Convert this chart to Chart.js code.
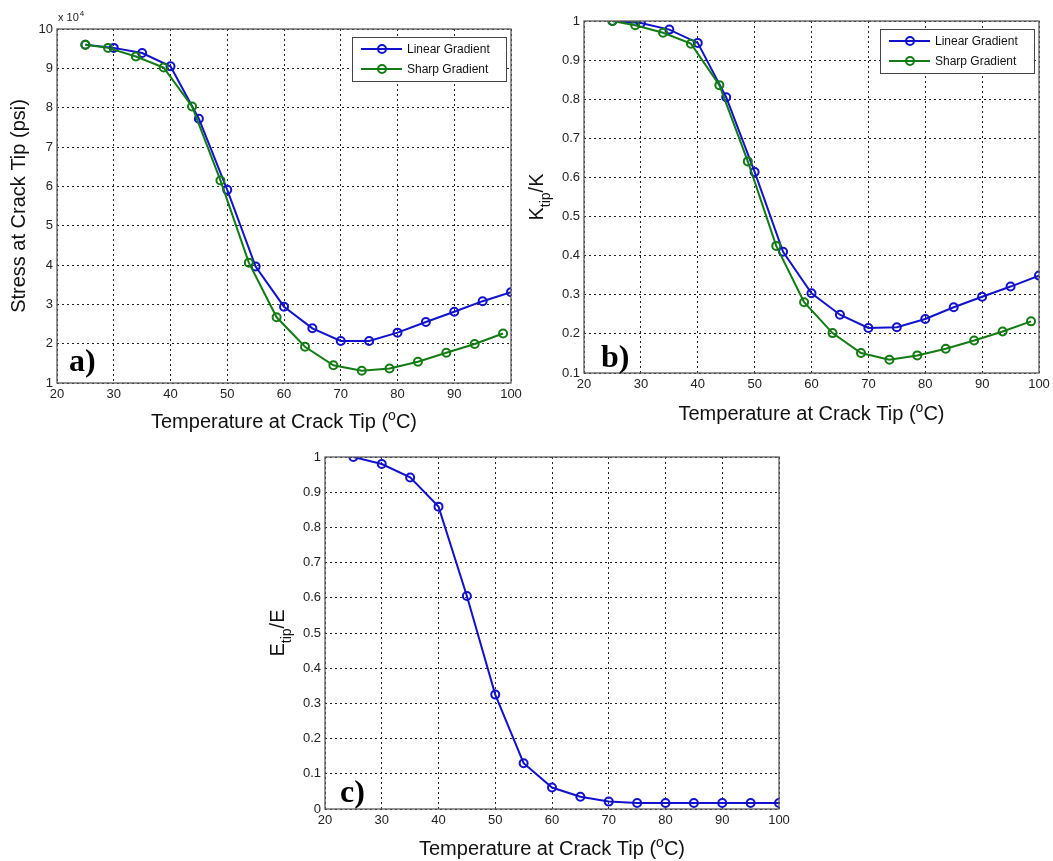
<!DOCTYPE html>
<html>
<head>
<meta charset="utf-8">
<script src="https://cdn.jsdelivr.net/npm/chart.js@4.4.1/dist/chart.umd.min.js"></script>
<style>
  body { margin: 0; background: #fff; }
  #wrap { position: relative; width: 1053px; height: 861px; overflow: hidden; }
  canvas { position: absolute; }
</style>
</head>
<body>
<div id="wrap">
  <canvas id="chart-a" width="522" height="440" style="left:0;top:0"></canvas>
  <canvas id="chart-b" width="531" height="440" style="left:522px;top:0"></canvas>
  <canvas id="chart-c" width="540" height="421" style="left:260px;top:440px"></canvas>
</div>
<script>
// temperatures at crack tip (deg C)
const temp_linear = [25, 30, 35, 40, 45, 50, 55, 60, 65, 70, 75, 80, 85, 90, 95, 100];
const temp_sharp = [25, 29, 33.9, 38.8, 43.8, 48.8, 53.8, 58.7, 63.7, 68.7, 73.7, 78.6, 83.6, 88.6, 93.6, 98.6];

// a) stress at crack tip, in units of 1e4 psi
const stress_linear = [9.6, 9.52, 9.39, 9.05, 7.72, 5.91, 3.96, 2.94, 2.39, 2.07, 2.07, 2.28, 2.55, 2.81, 3.08, 3.31];
const stress_sharp = [9.6, 9.52, 9.3, 9.02, 8.03, 6.15, 4.06, 2.67, 1.92, 1.45, 1.31, 1.37, 1.54, 1.77, 1.99, 2.26];

// b) K_tip / K
const k_linear = [1.0, 0.995, 0.978, 0.944, 0.805, 0.614, 0.41, 0.304, 0.249, 0.215, 0.217, 0.238, 0.268, 0.295, 0.321, 0.349];
const k_sharp = [1.0, 0.989, 0.97, 0.942, 0.836, 0.641, 0.425, 0.281, 0.202, 0.151, 0.134, 0.145, 0.162, 0.183, 0.206, 0.232];

// c) E_tip / E
const e_linear = [1.0, 0.98, 0.942, 0.859, 0.605, 0.325, 0.13, 0.061, 0.035, 0.021, 0.017, 0.017, 0.017, 0.017, 0.017, 0.017];

const x_ticks = [20, 30, 40, 50, 60, 70, 80, 90, 100];
const stress_ticks = [1, 2, 3, 4, 5, 6, 7, 8, 9, 10];
const k_ticks = [0.1, 0.2, 0.3, 0.4, 0.5, 0.6, 0.7, 0.8, 0.9, 1];
const e_ticks = [0, 0.1, 0.2, 0.3, 0.4, 0.5, 0.6, 0.7, 0.8, 0.9, 1];

const series_labels = ['Linear Gradient', 'Sharp Gradient'];
const x_title = [['Temperature at Crack Tip (', ''], ['o', 'sup'], ['C)', '']];

const blue = '#1212cc';
const green = '#137b13';
const sans = '"Liberation Sans", Arial, sans-serif';

function pairs(xs, ys) {
  return xs.map(function (x, i) { return { x: x, y: ys[i] }; });
}

function lineSet(label, xs, ys, color, order) {
  return {
    label: label,
    data: pairs(xs, ys),
    borderColor: color,
    borderWidth: 2,
    pointRadius: 4,
    pointBorderWidth: 2,
    pointBorderColor: color,
    pointBackgroundColor: 'rgba(0,0,0,0)',
    tension: 0,
    order: order
  };
}

// draws a line of text made of normal / sub / sup parts, centred at x,y
function drawRich(ctx, parts, x, y, size, rotate) {
  var small = Math.round(size * 0.68);
  var fontFor = function (k) { return (k ? small : size) + 'px ' + sans; };
  ctx.save();
  ctx.translate(x, y);
  if (rotate) ctx.rotate(-Math.PI / 2);
  var total = 0;
  parts.forEach(function (p) { ctx.font = fontFor(p[1]); total += ctx.measureText(p[0]).width; });
  var cx = -total / 2;
  var base = size * 0.36;
  ctx.fillStyle = '#111';
  ctx.textBaseline = 'alphabetic';
  ctx.textAlign = 'left';
  parts.forEach(function (p) {
    ctx.font = fontFor(p[1]);
    var dy = p[1] === 'sub' ? size * 0.32 : (p[1] === 'sup' ? -size * 0.42 : 0);
    ctx.fillText(p[0], cx, base + dy);
    cx += ctx.measureText(p[0]).width;
  });
  ctx.restore();
}

const decor = {
  id: 'decor',
  afterDraw(chart, args, o) {
    const ctx = chart.ctx, a = chart.chartArea;
    // box round the axes
    ctx.save();
    ctx.strokeStyle = '#5a5a5a';
    ctx.lineWidth = 1.3;
    ctx.strokeRect(a.left, a.top, a.right - a.left, a.bottom - a.top);
    ctx.restore();

    drawRich(ctx, x_title, (a.left + a.right) / 2, a.bottom + o.xTitleDy, 20, false);
    drawRich(ctx, o.yTitle, a.left - o.yTitleDx, (a.top + a.bottom) / 2, 20, true);

    // panel letter
    ctx.save();
    ctx.font = 'bold 32px "Liberation Serif", "Times New Roman", serif';
    ctx.fillStyle = '#000';
    ctx.textBaseline = 'alphabetic';
    ctx.fillText(o.letter, a.left + o.letterDx, a.bottom - o.letterDy);
    ctx.restore();

    if (o.exponent) {
      ctx.save();
      ctx.fillStyle = '#222';
      ctx.font = '11px ' + sans;
      ctx.fillText('x 10', a.left + 1, a.top - 8);
      var w = ctx.measureText('x 10').width;
      ctx.font = '8px ' + sans;
      ctx.fillText('4', a.left + 2 + w, a.top - 13);
      ctx.restore();
    }

    if (o.legend) {
      const bw = 154, bh = 44;
      const bx = a.right - 5 - bw, by = a.top + 8;
      ctx.save();
      ctx.fillStyle = '#fff';
      ctx.fillRect(bx, by, bw, bh);
      ctx.strokeStyle = '#444';
      ctx.lineWidth = 1;
      ctx.strokeRect(bx + 0.5, by + 0.5, bw, bh);
      chart.data.datasets.forEach(function (ds, i) {
        const ly = by + 12 + i * 20;
        ctx.strokeStyle = ds.borderColor;
        ctx.lineWidth = 2;
        ctx.beginPath();
        ctx.moveTo(bx + 9, ly);
        ctx.lineTo(bx + 50, ly);
        ctx.stroke();
        ctx.beginPath();
        ctx.arc(bx + 30, ly, 4, 0, Math.PI * 2);
        ctx.stroke();
        ctx.fillStyle = '#111';
        ctx.font = '12px ' + sans;
        ctx.textBaseline = 'middle';
        ctx.fillText(ds.label, bx + 55, ly + 1);
      });
      ctx.restore();
    }
  }
};

function tickFmt(v) { return String(Math.round(v * 10) / 10); }

function makeChart(id, datasets, yMin, yMax, yTicks, lay, deco) {
  return new Chart(document.getElementById(id), {
    type: 'line',
    data: { datasets: datasets },
    plugins: [decor],
    options: {
      responsive: false,
      animation: false,
      layout: { autoPadding: false, padding: { top: lay.padTop, right: lay.padRight, left: 0, bottom: 0 } },
      plugins: { legend: { display: false }, tooltip: { enabled: false }, decor: deco },
      scales: {
        x: {
          type: 'linear', min: 20, max: 100,
          afterBuildTicks: function (s) { s.ticks = x_ticks.map(function (v) { return { value: v }; }); },
          afterFit: function (s) { s.height = lay.xHeight; s.paddingLeft = 0; s.paddingRight = 0; },
          grid: { color: '#222', lineWidth: 1, drawTicks: false },
          border: { display: false, dash: [2, 3] },
          ticks: { autoSkip: false, maxRotation: 0, padding: 4, color: '#222', font: { family: sans, size: 13 }, callback: tickFmt }
        },
        y: {
          type: 'linear', min: yMin, max: yMax,
          afterBuildTicks: function (s) { s.ticks = yTicks.map(function (v) { return { value: v }; }); },
          afterFit: function (s) { s.width = lay.yWidth; s.paddingTop = 0; s.paddingBottom = 0; },
          grid: { color: '#222', lineWidth: 1, drawTicks: false },
          border: { display: false, dash: [2, 3] },
          ticks: { autoSkip: false, padding: 4, color: '#222', font: { family: sans, size: 13 }, callback: tickFmt }
        }
      }
    }
  });
}

makeChart('chart-a', [
  lineSet(series_labels[0], temp_linear, stress_linear, blue, 1),
  lineSet(series_labels[1], temp_sharp, stress_sharp, green, 0)
], 1, 10, stress_ticks,
  { padTop: 29, padRight: 11, yWidth: 57, xHeight: 57 },
  { yTitle: [['Stress at Crack Tip (psi)', '']], yTitleDx: 39, xTitleDy: 38, letter: 'a)', letterDx: 12, letterDy: 12, exponent: true, legend: true });

makeChart('chart-b', [
  lineSet(series_labels[0], temp_linear, k_linear, blue, 1),
  lineSet(series_labels[1], temp_sharp, k_sharp, green, 0)
], 0.1, 1, k_ticks,
  { padTop: 21, padRight: 14, yWidth: 62, xHeight: 67 },
  { yTitle: [['K', ''], ['tip', 'sub'], ['/K', '']], yTitleDx: 48, xTitleDy: 40, letter: 'b)', letterDx: 17, letterDy: 6, legend: true });

makeChart('chart-c', [
  lineSet(series_labels[0], temp_linear, e_linear, blue, 0)
], 0, 1, e_ticks,
  { padTop: 17, padRight: 21, yWidth: 65, xHeight: 52 },
  { yTitle: [['E', ''], ['tip', 'sub'], ['/E', '']], yTitleDx: 48, xTitleDy: 39, letter: 'c)', letterDx: 15, letterDy: 7 });
</script>
</body>
</html>
